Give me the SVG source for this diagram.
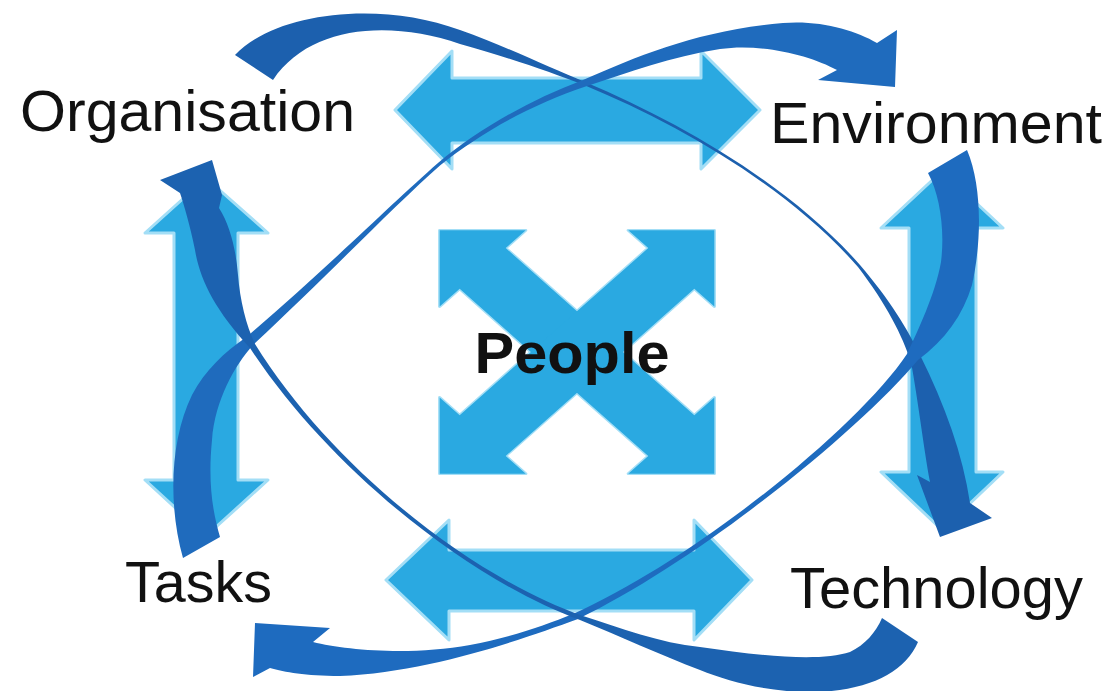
<svg xmlns="http://www.w3.org/2000/svg" xmlns:xlink="http://www.w3.org/1999/xlink" width="1120" height="691" viewBox="0 0 1120 691">
<defs>
<style>
.lbl{font-family:"Liberation Sans",Arial,sans-serif;fill:#111;font-size:58px}
.ppl{font-family:"Liberation Sans",Arial,sans-serif;fill:#111;font-size:58px;font-weight:bold}
.light{fill:#2aa9e1;stroke:#a3def6;stroke-width:3;stroke-linejoin:round}
.lightfill{fill:#2aa9e1;stroke:none}
.dark{fill:#1d66b8;stroke:none}
</style>
<path id="xarm" d="M -185,0 L -127,-58 L -127,-31 L 127,-31 L 127,-58 L 185,0 L 127,58 L 127,31 L -127,31 L -127,58 Z"/>
</defs>
<rect width="1120" height="691" fill="#ffffff"/>

<g id="connectors">
  <!-- light double arrows -->
  <path class="light" d="M 395,110 L 452,51 L 452,78 L 701,78 L 701,51 L 760,110 L 701,169 L 701,143 L 452,143 L 452,169 Z"/>
  <path class="light" d="M 386,580 L 449,520 L 449,550 L 694,550 L 694,520 L 752,580 L 694,640 L 694,611 L 449,611 L 449,640 Z"/>
  <path class="light" d="M 206,178 L 268,233 L 238,233 L 238,480 L 268,480 L 206,536 L 145,480 L 174,480 L 174,233 L 145,233 Z"/>
  <path class="light" d="M 942,171 L 1003,228 L 976,228 L 976,472 L 1003,472 L 942,530 L 881,472 L 909,472 L 909,228 L 881,228 Z"/>

  <!-- dark swooshes -->
  <path class="dark" style="fill:#1c60ae" d="M 235,55 C 275,12 380,0 460,30 C 510,48 550,68 585,82 C 680,122 790,185 860,265 C 890,300 908,330 920,355 C 945,405 963,455 970,503 L 992,518 L 940,537 L 917,475 L 930,482 C 924,450 918,400 911,362 C 902,335 887,305 858,267 C 789,188 681,125 584,85 C 550,72 510,58 460,44 C 390,20 310,25 273,80 Z"/>
  <path class="dark" style="fill:#1f6bbd" d="M 183,558 C 168,505 170,440 192,395 C 205,370 225,352 245,338 C 320,275 390,205 438,163 C 480,128 530,100 583,80 C 640,55 700,30 783,23 C 820,20 855,30 877,43 L 897,30 L 895,87 L 818,80 L 837,70 C 810,55 760,43 720,49 C 670,57 630,72 587,86 C 533,104 483,131 440,165.5 C 393,207 325,278 253,345 C 235,365 215,400 212,440 C 208,480 212,510 220,537 Z"/>
  <path class="dark" style="fill:#1e6bbf" d="M 967,150 C 982,185 982,240 972,285 C 963,315 945,340 918,360 C 860,430 700,560 578,619 C 520,640 430,672 340,676 C 305,676 285,672 270,668 L 253,677 L 255,623 L 330,628 L 313,642 C 345,650 410,656 470,645 C 510,638 545,625 573,614 C 699,557 858,427 907,354 C 918,330 935,295 941,262 C 945,230 940,195 928,173 Z"/>
  <path class="dark" style="fill:#1c62b0" d="M 918,642 C 905,672 870,690 817,692 C 770,693 730,682 700,670 C 660,655 620,636 580,620 C 470,580 330,470 250,348 C 215,310 200,280 195,250 C 190,225 184,205 180,193 L 160,180 L 212,160 L 222,195 L 219,208 C 230,225 236,250 238,275 C 240,300 246,325 255,344 C 332,468 472,577 583,616 C 620,628 660,643 700,647 C 760,656 820,662 850,652 C 865,645 876,632 882,618 Z"/>
</g>

<g id="people">
  <g transform="translate(577,352) scale(1.05,0.93)">
    <use xlink:href="#xarm" class="light" transform="rotate(45)"/>
    <use xlink:href="#xarm" class="light" transform="rotate(-45)"/>
    <use xlink:href="#xarm" class="lightfill" transform="rotate(45)"/>
    <use xlink:href="#xarm" class="lightfill" transform="rotate(-45)"/>
  </g>
  <text class="ppl" x="572" y="373" text-anchor="middle" textLength="195" lengthAdjust="spacingAndGlyphs">People</text>
</g>

<g id="organisation">
  <text class="lbl" x="20" y="131" textLength="335" lengthAdjust="spacingAndGlyphs">Organisation</text>
</g>
<g id="environment">
  <text class="lbl" x="770" y="143" textLength="332" lengthAdjust="spacingAndGlyphs">Environment</text>
</g>
<g id="tasks">
  <text class="lbl" x="125" y="602" textLength="147" lengthAdjust="spacingAndGlyphs">Tasks</text>
</g>
<g id="technology">
  <text class="lbl" x="790" y="608" textLength="293" lengthAdjust="spacingAndGlyphs">Technology</text>
</g>
</svg>
